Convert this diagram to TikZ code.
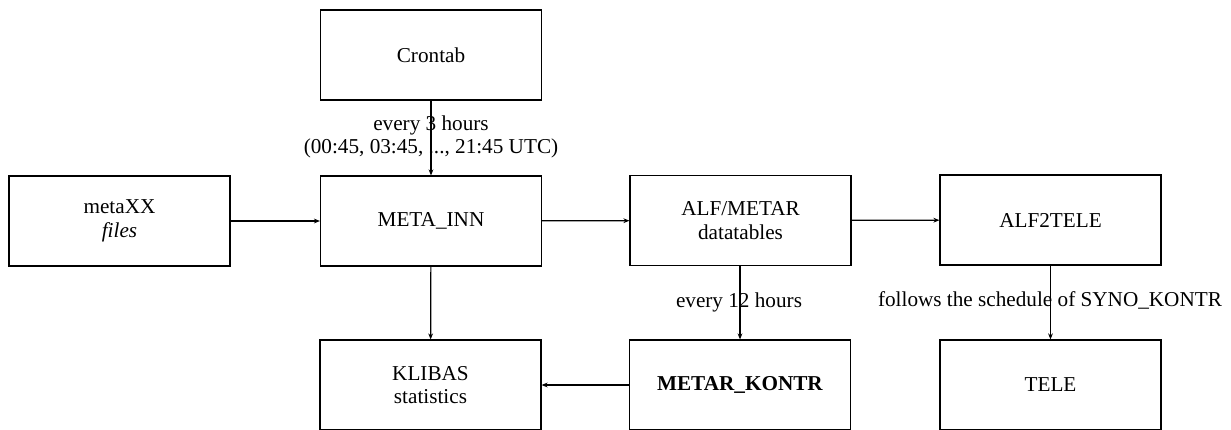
\documentclass[tikz,border=0pt]{standalone}
\usepackage{fontspec}
\setmainfont{Liberation Serif}
\usetikzlibrary{arrows.meta}
\begin{document}
\begin{tikzpicture}[x=0.5pt,y=-0.5pt,
  box/.style={draw, line width=0.6pt, rectangle, minimum width=110.5pt, minimum height=45pt, align=center, inner sep=0pt, font=\fontsize{10.6}{11.8}\selectfont},
  conn/.style={line width=0.6pt, -{Stealth[length=3pt,width=2.4pt]}},
  lbl/.style={align=center, inner sep=0pt, font=\fontsize{10.6}{11.2}\selectfont}]
\useasboundingbox (0,0) rectangle (1231,429);
\node[box] (meta) at (119.5,221) {metaXX\\\textit{files}};
\node[box] (cron) at (431,55) {Crontab};
\node[box] (inn) at (431,221) {META\_INN};
\node[box] (alf) at (740.5,220.5) {ALF/METAR\\datatables};
\node[box] (a2t) at (1050.5,220) {ALF2TELE};
\node[box] (kli) at (430.5,385) {KLIBAS\\statistics};
\node[box] (mk) at (740,385) {\textbf{METAR\_KONTR}};
\node[box] (tele) at (1050.5,385) {TELE};
\draw[conn] (meta) -- (inn);
\draw[conn] (inn) -- (alf);
\draw[conn] (alf) -- (a2t);
\draw[conn] (cron) -- (inn);
\draw[conn] (inn) -- (kli);
\draw[conn] (alf.south -| mk.north) -- (mk.north);
\draw[conn] (mk) -- (kli);
\draw[conn] (a2t) -- (tele);
\node[lbl] (l1) at (431,137) {every 3 hours\\(00:45, 03:45, ..., 21:45 UTC)};
\node[lbl] (l2) at (739,302) {every 12 hours};
\node[lbl] (l3) at (1050,300) {follows the schedule of SYNO\_KONTR};
\end{tikzpicture}
\end{document}
